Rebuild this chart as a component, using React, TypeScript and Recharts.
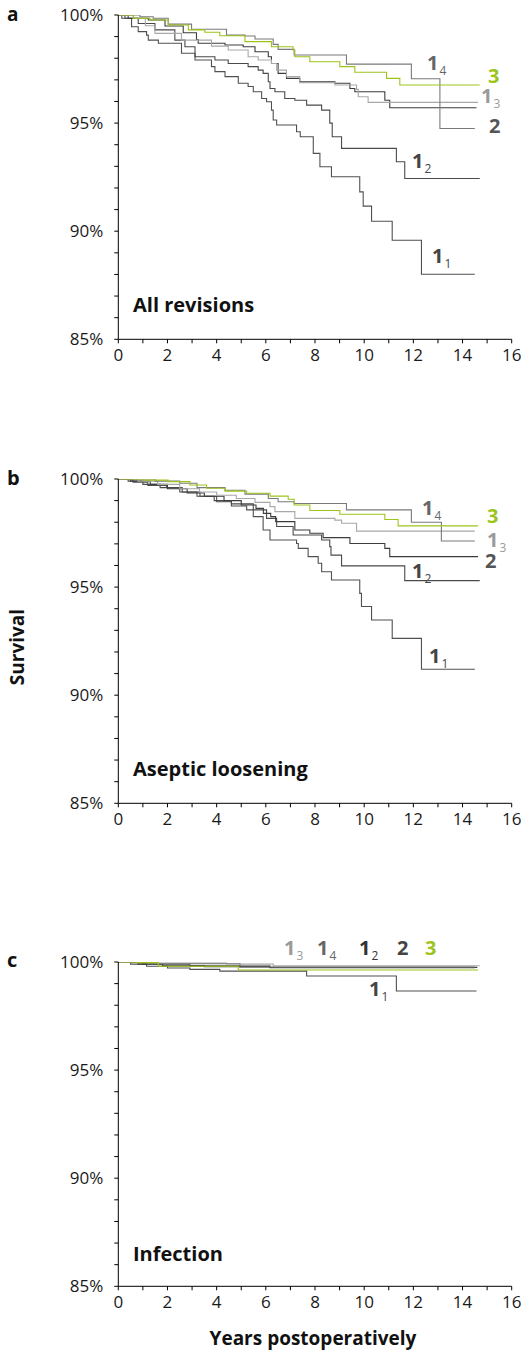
import React from 'react';
import { LineChart, Line, XAxis, YAxis } from 'recharts';

type P = [number, number];

const yearTicks = [0, 1, 2, 3, 4, 5, 6, 7, 8, 9, 10, 11, 12, 13, 14, 15, 16];
const survivalTicks = [85, 86, 87, 88, 89, 90, 91, 92, 93, 94, 95, 96, 97, 98, 99, 100];

// ---- a: All revisions ----
const a_1_1: P[] = [[0,100],[0.14,99.85],[0.54,99.46],[0.81,99.23],[1.15,99.07],[1.22,98.84],[1.63,98.69],[2.57,98.23],[3.12,97.92],[3.79,97.61],[3.93,97.38],[4.34,97.15],[4.88,96.84],[5.28,96.69],[5.49,96.45],[5.83,96.14],[6.03,95.99],[6.23,95.6],[6.3,95.14],[6.44,94.91],[7.25,94.6],[7.4,94.37],[7.93,93.6],[8.2,92.98],[8.67,92.52],[9.82,91.82],[9.96,91.16],[10.3,90.46],[11.14,89.58],[12.33,88.01],[14.5,88.01]];
const a_1_2: P[] = [[0,100],[0.27,99.85],[0.81,99.61],[1.49,99.31],[2.3,98.84],[2.71,98.53],[3.12,98.07],[3.93,97.92],[4.47,97.76],[5.28,97.61],[5.69,97.45],[5.89,97.3],[6.1,96.91],[6.17,96.6],[6.37,96.45],[6.77,96.14],[7.18,96.06],[7.66,95.83],[8.27,95.6],[8.6,95.0],[8.7,94.37],[9.08,93.83],[11.31,93.21],[11.65,92.44],[14.7,92.44]];
const a_1_3: P[] = [[0,100],[0.61,99.85],[1.1,99.5],[1.49,99.15],[2.57,98.84],[3.79,98.56],[4.47,98.38],[5.28,98.07],[5.69,97.92],[6.23,97.76],[6.44,97.45],[6.84,97.15],[7.38,96.87],[8.81,96.76],[9.69,96.56],[9.76,96.22],[10.16,95.96],[14.63,95.96]];
const a_1_4: P[] = [[0,100],[0.88,99.92],[1.42,99.85],[2.03,99.58],[2.98,99.34],[4.4,99.07],[5.15,99.03],[5.56,98.89],[6.3,98.64],[6.5,98.41],[7.15,98.15],[9.28,97.73],[11.92,97.05],[13.08,94.75],[14.5,94.75]];
const a_2: P[] = [[0,100],[0.4,99.85],[1.22,99.77],[1.9,99.49],[2.64,99.18],[3.18,98.87],[3.25,98.69],[4.34,98.61],[5.08,98.53],[5.56,98.3],[6.1,98.07],[6.23,97.76],[6.5,97.3],[6.84,97.07],[7.38,96.91],[8.81,96.84],[9.42,96.6],[9.62,96.45],[10.84,96.06],[11.04,95.71],[14.57,95.71]];
const a_3: P[] = [[0,100],[0.61,99.85],[1.29,99.77],[2.03,99.54],[2.85,99.31],[3.52,99.2],[4.13,99.04],[5.15,98.77],[6.23,98.53],[7.11,98.38],[7.18,98.07],[7.79,97.84],[9.01,97.61],[9.62,97.35],[10.91,97.07],[11.45,96.76],[14.7,96.76]];

// ---- b: Aseptic loosening ----
const b_1_1: P[] = [[0,100],[0.6,99.85],[1.2,99.7],[1.96,99.6],[2.6,99.4],[3.32,99.2],[4.0,98.95],[4.6,98.75],[5.22,98.57],[5.49,98.26],[5.89,97.64],[6.17,97.18],[7.25,97.02],[7.32,96.79],[7.72,96.41],[8.13,96.1],[8.27,95.71],[8.67,95.33],[9.82,94.71],[9.89,94.1],[10.3,93.48],[11.14,92.63],[12.33,91.2],[14.5,91.2]];
const b_1_2: P[] = [[0,100],[0.4,99.9],[1.0,99.75],[1.7,99.6],[2.5,99.4],[3.2,99.2],[3.9,99.0],[4.6,98.85],[5.49,98.57],[6.03,98.18],[6.44,97.8],[7.11,97.41],[8.27,97.18],[8.6,96.87],[8.65,96.48],[9.08,95.98],[11.65,95.3],[14.7,95.3]];
const b_1_3: P[] = [[0,100],[0.8,99.9],[1.6,99.75],[2.5,99.55],[3.3,99.4],[4.0,99.25],[4.8,99.1],[5.56,98.92],[6.17,98.72],[6.37,98.49],[7.18,98.18],[8.81,98.1],[9.08,97.95],[9.69,97.59],[14.5,97.59]];
const b_1_4: P[] = [[0,100],[1.5,99.9],[2.5,99.8],[3.2,99.6],[4.34,99.48],[5.15,99.3],[6.1,99.1],[6.5,98.95],[7.15,98.87],[9.28,98.57],[11.92,98.0],[13.14,97.13],[14.5,97.13]];
const b_2: P[] = [[0,100],[0.5,99.9],[1.3,99.75],[2.0,99.55],[2.8,99.35],[3.5,99.2],[4.3,99.0],[5.0,98.8],[5.6,98.64],[5.9,98.41],[6.2,98.26],[6.4,98.03],[7.18,97.64],[7.79,97.49],[8.33,97.29],[9.42,97.02],[10.84,96.79],[11.04,96.41],[14.63,96.41]];
const b_3: P[] = [[0,100],[1.0,99.95],[2.03,99.88],[2.91,99.72],[3.59,99.57],[4.34,99.44],[5.22,99.34],[6.17,99.21],[6.91,99.06],[7.15,98.8],[7.79,98.54],[9.01,98.37],[10.84,98.13],[11.38,97.83],[14.63,97.83]];

// ---- c: Infection ----
const c_1_1: P[] = [[0,100],[0.5,99.9],[1.15,99.8],[2.0,99.72],[2.91,99.66],[4.13,99.58],[7.66,99.35],[11.31,98.66],[14.57,98.66]];
const c_1_2: P[] = [[0,100],[1.0,99.9],[2.91,99.83],[4.95,99.77],[6.17,99.74],[14.5,99.74]];
const c_1_3: P[] = [[0,100],[1.5,99.95],[4.4,99.91],[6.3,99.83],[14.7,99.83]];
const c_1_4: P[] = [[0,100],[1.2,99.92],[4.95,99.85],[6.17,99.77],[14.5,99.77]];
const c_2: P[] = [[0,100],[0.8,99.9],[1.8,99.82],[3.5,99.78],[6.17,99.75],[14.6,99.75]];
const c_3: P[] = [[0,100],[0.74,99.97],[1.63,99.8],[4.88,99.63],[14.63,99.63]];

const FONT = "'Open Sans', 'Noto Sans', sans-serif";
const GREEN = '#9dc41a';
const lineColors: Record<string, string> = {
  '1_1': '#505050',
  '1_2': '#4a4a4a',
  '2': '#3c3c3c',
  '1_3': '#a8a8a8',
  '1_4': '#7a7a7a',
  '3': GREEN,
};

type Series = { id: string; pts: P[] };

const panelA: Series[] = [
  { id: '1_1', pts: a_1_1 }, { id: '1_2', pts: a_1_2 }, { id: '2', pts: a_2 },
  { id: '1_3', pts: a_1_3 }, { id: '1_4', pts: a_1_4 }, { id: '3', pts: a_3 },
];
const panelB: Series[] = [
  { id: '1_1', pts: b_1_1 }, { id: '1_2', pts: b_1_2 }, { id: '2', pts: b_2 },
  { id: '1_3', pts: b_1_3 }, { id: '1_4', pts: b_1_4 }, { id: '3', pts: b_3 },
];
const panelC: Series[] = [
  { id: '1_1', pts: c_1_1 }, { id: '1_2', pts: c_1_2 }, { id: '2', pts: c_2 },
  { id: '1_3', pts: c_1_3 }, { id: '1_4', pts: c_1_4 }, { id: '3', pts: c_3 },
];

const toRows = (pts: P[]) => pts.map(([t, s]) => ({ t, s }));

function Panel({ top, series }: { top: number; series: Series[] }) {
  return (
    <div style={{ position: 'absolute', left: 0, top, width: 521, height: 375 }}>
      <LineChart width={521} height={375} margin={{ top: 15, right: 9.3, bottom: 5.7, left: 58.3 }}>
        <XAxis
          type="number"
          dataKey="t"
          domain={[0, 16]}
          ticks={yearTicks}
          interval={0}
          allowDataOverflow
          height={30}
          tickSize={4}
          tickMargin={6}
          tickFormatter={(v: number) => (v % 2 === 0 ? String(v) : '')}
          tick={{ fill: '#1a1a1a', fontSize: 17, fontFamily: FONT }}
          axisLine={{ stroke: '#000', strokeWidth: 1 }}
          tickLine={{ stroke: '#000', strokeWidth: 1 }}
        />
        <YAxis
          type="number"
          domain={[85, 100]}
          ticks={survivalTicks}
          interval={0}
          allowDataOverflow
          width={60}
          tickSize={4}
          tickMargin={11}
          tickFormatter={(v: number) => (v % 5 === 0 ? `${v}%` : '')}
          tick={{ fill: '#1a1a1a', fontSize: 17, fontFamily: FONT }}
          axisLine={{ stroke: '#000', strokeWidth: 1 }}
          tickLine={{ stroke: '#000', strokeWidth: 1 }}
        />
        {series.map((s) => (
          <Line
            key={s.id}
            data={toRows(s.pts)}
            dataKey="s"
            type="stepAfter"
            stroke={lineColors[s.id]}
            strokeWidth={1.1}
            dot={false}
            activeDot={false}
            isAnimationActive={false}
          />
        ))}
      </LineChart>
    </div>
  );
}

function CurveLabel({ x, y, main, sub, color }: { x: number; y: number; main: string; sub?: string; color: string }) {
  return (
    <text x={x} y={y} fill={color} fontFamily={FONT}>
      <tspan fontSize={20} fontWeight={700}>{main}</tspan>
      {sub ? (
        <tspan fontSize={12} fontWeight={400} dx={1} dy={5}>{sub}</tspan>
      ) : null}
    </text>
  );
}

export default function App() {
  return (
    <div style={{ position: 'absolute', left: 0, top: 0, width: 521, height: 1350, background: '#fff' }}>
      <Panel top={0} series={panelA} />
      <Panel top={464} series={panelB} />
      <Panel top={947} series={panelC} />
      <svg width={521} height={1350} style={{ position: 'absolute', left: 0, top: 0, pointerEvents: 'none' }}>
        <g fontFamily={FONT} fontWeight={700} fill="#111">
          <text x={7} y={20.5} fontSize={19}>a</text>
          <text x={7} y={485} fontSize={20}>b</text>
          <text x={7} y={967} fontSize={20}>c</text>
          <text x={133} y={312} fontSize={20}>All revisions</text>
          <text x={133} y={776} fontSize={20}>Aseptic loosening</text>
          <text x={133} y={1261} fontSize={20}>Infection</text>
          <text x={313} y={1345} fontSize={19} textAnchor="middle">Years postoperatively</text>
          <text x={24} y={647} fontSize={19} textAnchor="middle" transform="rotate(-90 24 647)">Survival</text>
        </g>
        {/* panel a curve labels */}
        <CurveLabel x={427} y={70} main="1" sub="4" color="#666" />
        <CurveLabel x={488} y={83} main="3" color={GREEN} />
        <CurveLabel x={481} y={103} main="1" sub="3" color="#9a9a9a" />
        <CurveLabel x={489} y={133} main="2" color="#555" />
        <CurveLabel x={412} y={168} main="1" sub="2" color="#444" />
        <CurveLabel x={432} y={263} main="1" sub="1" color="#444" />
        {/* panel b */}
        <CurveLabel x={422} y={515} main="1" sub="4" color="#666" />
        <CurveLabel x={487} y={523} main="3" color={GREEN} />
        <CurveLabel x={487} y={547} main="1" sub="3" color="#9a9a9a" />
        <CurveLabel x={485} y={568} main="2" color="#555" />
        <CurveLabel x={412} y={578} main="1" sub="2" color="#444" />
        <CurveLabel x={429} y={663} main="1" sub="1" color="#444" />
        {/* panel c */}
        <CurveLabel x={284} y={955} main="1" sub="3" color="#9a9a9a" />
        <CurveLabel x={317} y={955} main="1" sub="4" color="#666" />
        <CurveLabel x={359} y={955} main="1" sub="2" color="#333" />
        <CurveLabel x={397} y={955} main="2" color="#444" />
        <CurveLabel x={425} y={955} main="3" color={GREEN} />
        <CurveLabel x={369} y={996} main="1" sub="1" color="#444" />
      </svg>
    </div>
  );
}
